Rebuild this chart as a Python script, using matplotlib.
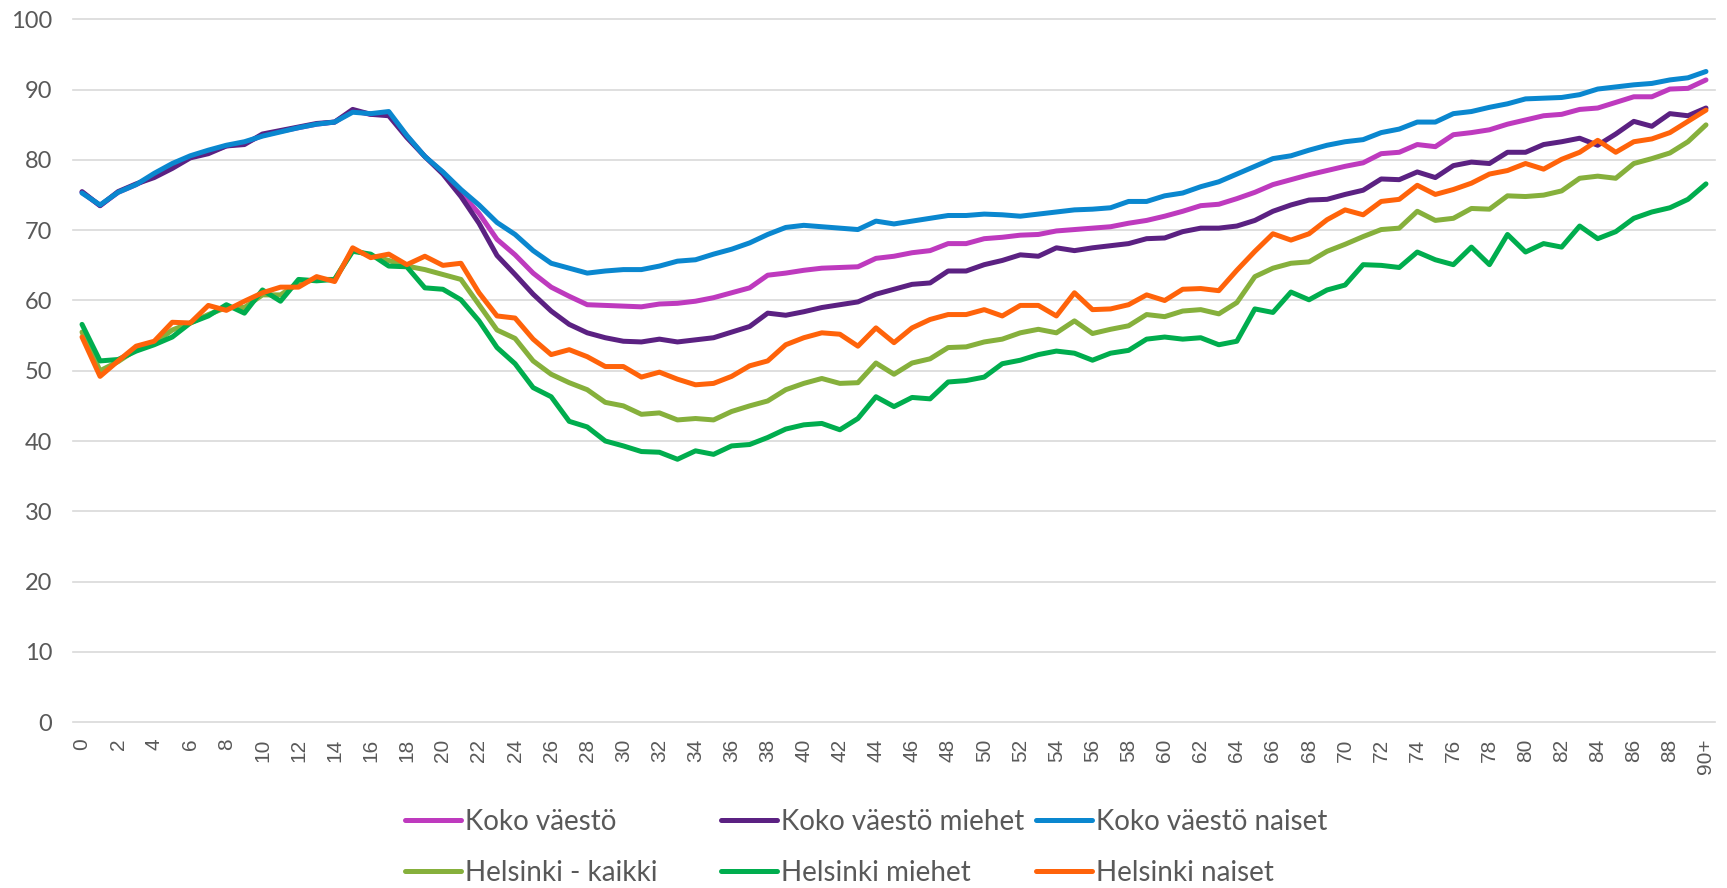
import matplotlib
matplotlib.use("Agg")
import matplotlib.pyplot as plt

# ---------------- data ----------------
ages = [str(i) for i in range(90)] + ["90+"]

koko_vaesto = [75.4, 73.5, 75.4, 76.5, 77.8, 79.1, 80.4, 81.1, 82.0, 82.4,
               83.5, 84.1, 84.6, 85.1, 85.4, 87.0, 86.5, 86.6, 83.4, 80.5,
               78.2, 75.3, 72.4, 68.7, 66.5, 63.9, 61.9, 60.6, 59.4, 59.3,
               59.2, 59.1, 59.5, 59.6, 59.9, 60.4, 61.1, 61.8, 63.6, 63.9,
               64.3, 64.6, 64.7, 64.8, 66.0, 66.3, 66.8, 67.1, 68.1, 68.1,
               68.8, 69.0, 69.3, 69.4, 69.9, 70.1, 70.3, 70.5, 71.0, 71.4,
               72.0, 72.7, 73.5, 73.7, 74.5, 75.4, 76.5, 77.2, 77.9, 78.5,
               79.1, 79.6, 80.9, 81.1, 82.2, 81.9, 83.6, 83.9, 84.3, 85.1,
               85.7, 86.3, 86.5, 87.2, 87.4, 88.2, 89.0, 89.0, 90.1, 90.2,
               91.4]

koko_miehet = [75.5, 73.5, 75.5, 76.6, 77.5, 78.8, 80.3, 80.9, 82.0, 82.2,
               83.7, 84.2, 84.7, 85.2, 85.4, 87.2, 86.5, 86.3, 83.2, 80.5,
               78.0, 74.8, 71.0, 66.4, 63.7, 60.9, 58.5, 56.6, 55.4, 54.7,
               54.2, 54.1, 54.5, 54.1, 54.4, 54.7, 55.5, 56.3, 58.2, 57.9,
               58.4, 59.0, 59.4, 59.8, 60.9, 61.6, 62.3, 62.5, 64.2, 64.2,
               65.1, 65.7, 66.5, 66.3, 67.5, 67.1, 67.5, 67.8, 68.1, 68.8,
               68.9, 69.8, 70.3, 70.3, 70.6, 71.4, 72.7, 73.6, 74.3, 74.4,
               75.1, 75.7, 77.3, 77.2, 78.3, 77.5, 79.2, 79.7, 79.5, 81.1,
               81.1, 82.2, 82.6, 83.1, 82.1, 83.7, 85.5, 84.8, 86.6, 86.3,
               87.4]

koko_naiset = [75.3, 73.6, 75.4, 76.5, 78.1, 79.5, 80.6, 81.4, 82.1, 82.6,
               83.4, 84.0, 84.6, 85.1, 85.4, 86.8, 86.6, 86.9, 83.5, 80.5,
               78.3, 75.8, 73.6, 71.1, 69.4, 67.1, 65.3, 64.6, 63.9, 64.2,
               64.4, 64.4, 64.9, 65.6, 65.8, 66.6, 67.3, 68.2, 69.4, 70.4,
               70.7, 70.5, 70.3, 70.1, 71.3, 70.9, 71.3, 71.7, 72.1, 72.1,
               72.3, 72.2, 72.0, 72.3, 72.6, 72.9, 73.0, 73.2, 74.1, 74.1,
               74.9, 75.3, 76.2, 76.9, 78.0, 79.1, 80.2, 80.6, 81.4, 82.1,
               82.6, 82.9, 83.9, 84.4, 85.4, 85.4, 86.6, 86.9, 87.5, 88.0,
               88.7, 88.8, 88.9, 89.3, 90.1, 90.4, 90.7, 90.9, 91.4, 91.7,
               92.6]

hki_kaikki = [55.5, 50.0, 51.3, 53.0, 53.9, 55.8, 56.8, 58.0, 59.0, 59.0,
              60.8, 60.8, 62.5, 63.0, 63.0, 67.2, 66.4, 65.7, 64.9, 64.4,
              63.7, 63.0, 59.4, 55.8, 54.6, 51.4, 49.5, 48.3, 47.3, 45.5,
              45.0, 43.8, 44.0, 43.0, 43.2, 43.0, 44.2, 45.0, 45.7, 47.3,
              48.2, 48.9, 48.2, 48.3, 51.1, 49.5, 51.1, 51.7, 53.3, 53.4,
              54.1, 54.5, 55.4, 55.9, 55.4, 57.1, 55.3, 55.9, 56.4, 58.0,
              57.7, 58.5, 58.7, 58.1, 59.7, 63.4, 64.6, 65.3, 65.5, 67.0,
              68.0, 69.1, 70.1, 70.3, 72.7, 71.4, 71.7, 73.1, 73.0, 74.9,
              74.8, 75.0, 75.6, 77.4, 77.7, 77.4, 79.5, 80.2, 81.0, 82.6,
              85.0]

hki_miehet = [56.6, 51.4, 51.6, 52.8, 53.7, 54.8, 56.8, 57.8, 59.4, 58.2,
              61.5, 59.9, 63.0, 62.8, 63.0, 67.0, 66.6, 64.9, 64.8, 61.8,
              61.6, 60.1, 57.1, 53.3, 51.0, 47.6, 46.3, 42.8, 42.0, 40.0,
              39.3, 38.5, 38.4, 37.4, 38.6, 38.1, 39.3, 39.5, 40.5, 41.7,
              42.3, 42.5, 41.6, 43.2, 46.3, 44.9, 46.2, 46.0, 48.4, 48.6,
              49.1, 51.0, 51.5, 52.3, 52.8, 52.5, 51.5, 52.5, 52.9, 54.5,
              54.8, 54.5, 54.7, 53.7, 54.2, 58.8, 58.3, 61.2, 60.1, 61.5,
              62.2, 65.1, 65.0, 64.7, 66.9, 65.8, 65.1, 67.6, 65.1, 69.4,
              66.9, 68.1, 67.6, 70.6, 68.8, 69.8, 71.7, 72.6, 73.2, 74.4,
              76.6]

hki_naiset = [54.8, 49.2, 51.4, 53.5, 54.2, 56.9, 56.8, 59.3, 58.6, 59.9,
              61.1, 61.9, 61.9, 63.4, 62.7, 67.5, 66.1, 66.6, 65.1, 66.3,
              65.0, 65.3, 61.1, 57.8, 57.5, 54.5, 52.3, 53.0, 52.0, 50.6,
              50.6, 49.1, 49.8, 48.8, 48.0, 48.2, 49.2, 50.7, 51.4, 53.7,
              54.7, 55.4, 55.2, 53.5, 56.1, 54.0, 56.1, 57.3, 58.0, 58.0,
              58.7, 57.8, 59.3, 59.3, 57.8, 61.1, 58.7, 58.8, 59.4, 60.8,
              60.0, 61.6, 61.7, 61.4, 64.3, 67.0, 69.5, 68.6, 69.5, 71.5,
              72.9, 72.2, 74.1, 74.4, 76.4, 75.1, 75.8, 76.7, 78.0, 78.5,
              79.5, 78.7, 80.1, 81.1, 82.8, 81.1, 82.6, 83.0, 83.9, 85.5,
              87.1]

series_names = ["Koko väestö", "Koko väestö miehet", "Koko väestö naiset",
                "Helsinki - kaikki", "Helsinki miehet", "Helsinki naiset"]
series_values = [koko_vaesto, koko_miehet, koko_naiset,
                 hki_kaikki, hki_miehet, hki_naiset]
series_colors = ["#BE3ABE", "#5B2182", "#0A87CF", "#86B03C", "#00AD4E", "#FF630A"]

y_ticks = list(range(0, 101, 10))

# ---------------- figure ----------------
W, H = 1727, 888
fig = plt.figure(figsize=(W / 100, H / 100), dpi=100)
ax = fig.add_axes([73 / W, 1 - 722 / H, (1715 - 73) / W, (722 - 19.5) / H])

x = list(range(len(ages)))
lines = []
for vals, name, col in zip(series_values, series_names, series_colors):
    ln, = ax.plot(x, vals, color=col, lw=3.6, label=name,
                  solid_joinstyle="round", solid_capstyle="round", zorder=3)
    lines.append(ln)

ax.set_xlim(-0.5, len(ages) - 0.5)
ax.set_ylim(0, 100)
ax.set_yticks(y_ticks)
ax.set_yticklabels([str(t) for t in y_ticks], fontfamily="Lato", fontsize=17,
                   color="#595959")
ax.set_xticks(x[::2])
ax.set_xticklabels(ages[::2], rotation=90, fontfamily="Liberation Sans",
                   fontsize=15, color="#595959", va="top", ha="center")
ax.tick_params(axis="y", length=0, pad=15)
ax.tick_params(axis="x", length=0, pad=12)
ax.grid(axis="y", color="#D9D9D9", lw=1.2, zorder=0)
for s in ax.spines.values():
    s.set_visible(False)
for gl in ax.get_ygridlines():
    gl.set_clip_on(False)

# legend: three equally spaced columns, two rows (Excel style)
col_x = [405, 721, 1036]
row_y = [822, 873]
for i, (ln, name) in enumerate(zip(lines, series_names)):
    r, c = divmod(i, 3)
    fig.legend([ln], [name], loc="center left",
               bbox_to_anchor=(col_x[c] / W, 1 - row_y[r] / H),
               frameon=False, borderpad=0, borderaxespad=0,
               handlelength=2.0, handletextpad=0.15,
               prop={"family": "Lato", "size": 20}, labelcolor="#595959")

fig.savefig("out.png", dpi=100, facecolor="white")
